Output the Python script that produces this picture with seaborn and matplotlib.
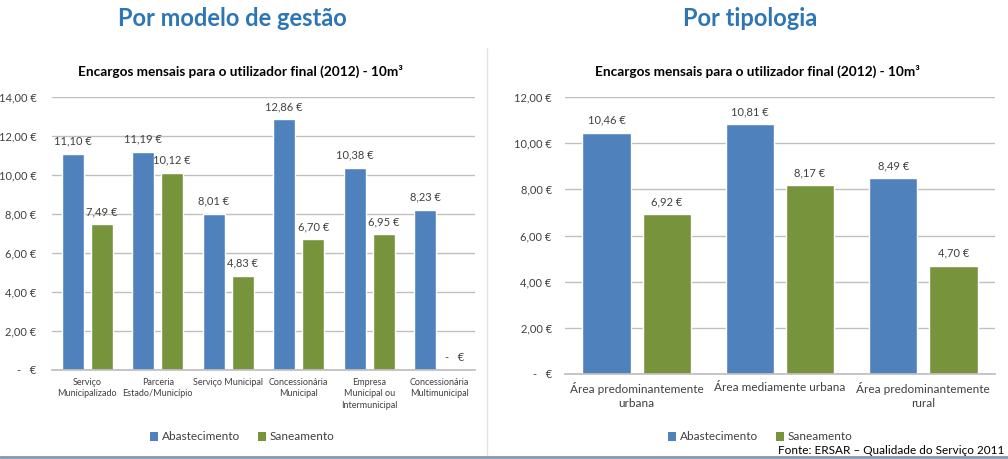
import pandas as pd
import seaborn as sns
import matplotlib.pyplot as plt
from matplotlib.lines import Line2D
from matplotlib.patches import Patch

# Data
series = ['Abastecimento', 'Saneamento']

gestao_cats = ['Serviço\nMunicipalizado', 'Parceria\nEstado/Município', 'Serviço Municipal',
               'Concessionária\nMunicipal', 'Empresa\nMunicipal ou\nIntermunicipal',
               'Concessionária\nMultimunicipal']
gestao_abast = [11.10, 11.19, 8.01, 12.86, 10.38, 8.23]
gestao_saneam = [7.49, 10.12, 4.83, 6.70, 6.95, 0.0]

tipo_cats = ['Área predominantemente\nurbana', 'Área mediamente urbana',
             'Área predominantemente\nrural']
tipo_abast = [10.46, 10.81, 8.49]
tipo_saneam = [6.92, 8.17, 4.70]

chart_title = 'Encargos mensais para o utilizador final (2012) - 10m³'
colors = ['#4F81BD', '#77933C']
grid_col = '#BFBFBF'
text_col = '#404040'
head_col = '#2E75B6'


def euro(v):
    if v == 0:
        return '-   €'
    return f'{v:.2f} €'.replace('.', ',')


def long_df(cats, a, s):
    return pd.DataFrame({
        'cat': cats * 2,
        'serie': [series[0]] * len(cats) + [series[1]] * len(cats),
        'valor': a + s,
    })


sns.set_theme(style='white')
plt.rcParams['font.family'] = ['Lato', 'DejaVu Sans']

W, H = 1008, 459
fig = plt.figure(figsize=(W / 100, H / 100), dpi=100)


def px_axes(x0, x1, y0, y1):
    return fig.add_axes([x0 / W, 1 - y1 / H, (x1 - x0) / W, (y1 - y0) / H])


def draw(ax, df, ymax, width, gap, xfs, cat_col, ypad):
    sns.barplot(data=df, x='cat', y='valor', hue='serie', palette=colors,
                width=width, gap=gap, ax=ax, legend=False, saturation=1)
    ax.set_ylim(0, ymax)
    ax.set_xlim(-0.5, len(cat_col) - 0.5)
    ticks = list(range(0, ymax + 1, 2))
    ax.set_yticks(ticks)
    ax.set_yticklabels([euro(t) for t in ticks], fontsize=8, color=text_col)
    ax.yaxis.grid(True, color=grid_col, linewidth=1)
    ax.set_axisbelow(True)
    for sp in ['left', 'right', 'top']:
        ax.spines[sp].set_visible(False)
    ax.spines['bottom'].set_color(grid_col)
    ax.tick_params(axis='x', length=0, pad=6)
    ax.tick_params(axis='y', length=0, pad=ypad)
    ax.set_xticks(range(len(cat_col)))
    ax.set_xticklabels(cat_col, fontsize=xfs, color=text_col, linespacing=1.3)
    ax.set_xlabel('')
    ax.set_ylabel('')
    for cont in ax.containers:
        vals = [b.get_height() for b in cont]
        ax.bar_label(cont, labels=[euro(v) for v in vals], padding=5,
                     fontsize=8, color=text_col)


# Left chart
axl = px_axes(52, 475, 97, 370)
draw(axl, long_df(gestao_cats, gestao_abast, gestao_saneam), 14, 0.82, 0.24, 6.5,
     gestao_cats, 11)

# Right chart
axr = px_axes(565, 995, 97, 374)
draw(axr, long_df(tipo_cats, tipo_abast, tipo_saneam), 12, 0.84, 0.2, 8.5, tipo_cats, 9.5)

# Headings
fig.text(232 / W, 1 - 19 / H, 'Por modelo de gestão', ha='center', va='center',
         fontsize=17, fontweight='bold', color=head_col)
fig.text(750 / W, 1 - 19 / H, 'Por tipologia', ha='center', va='center',
         fontsize=17, fontweight='bold', color=head_col)
fig.text(240 / W, 1 - 71 / H, chart_title, ha='center', va='center',
         fontsize=9.8, fontweight='bold', color='black')
fig.text(757 / W, 1 - 71 / H, chart_title, ha='center', va='center',
         fontsize=9.8, fontweight='bold', color='black')

# Legends
handles = [Patch(facecolor=c, edgecolor='none') for c in colors]
for cx in (242, 760):
    fig.legend(handles, series, loc='center', bbox_to_anchor=(cx / W, 1 - 437 / H),
               ncol=2, frameon=False, fontsize=8.5, handlelength=0.7, handleheight=0.7,
               handletextpad=0.3, columnspacing=1.5, labelcolor=text_col)

# Source
fig.text(1004 / W, 1 - 451 / H, 'Fonte: ERSAR – Qualidade do Serviço 2011',
         ha='right', va='center', fontsize=8.5, color='black')

# Frames
fig.add_artist(Line2D([487 / W, 487 / W], [1 - 48 / H, 1 - 455 / H], color='#E3E3E3', lw=1))
fig.add_artist(Line2D([0, 1], [1 - 457 / H, 1 - 457 / H], color='#8497B0', lw=2))

fig.savefig('out.png', dpi=100)
